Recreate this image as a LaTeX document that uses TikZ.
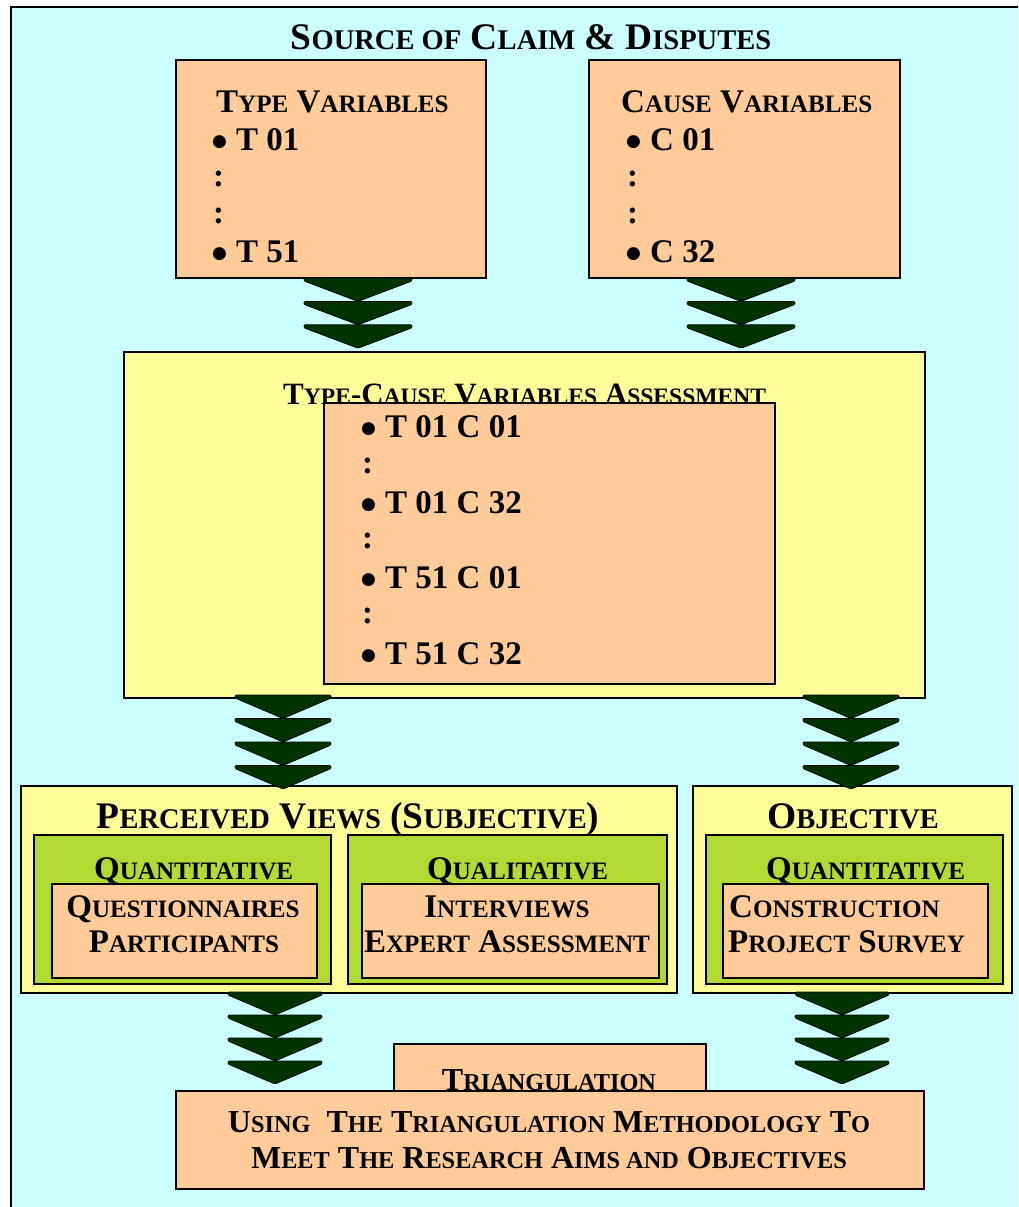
\documentclass[tikz,border=0pt]{standalone}
\usepackage{fontspec}
\setmainfont{Liberation Serif}
\newfontfamily\scfont[Scale=0.76]{Liberation Serif}
\newfontfamily\symfont{DejaVu Sans}
% fake small capitals: lower-case letters set as reduced capitals
\newcommand\smc[1]{{\scfont\bfseries #1}}
% large list bullet followed by its gap
\newcommand\bul{\makebox[23pt][l]{\hspace{-1pt}\raisebox{3.6pt}{\symfont\fontsize{17}{17}\selectfont ●}}}
\definecolor{sky}{HTML}{CCFFFF}
\definecolor{peach}{HTML}{FFCC99}
\definecolor{lemon}{HTML}{FFFF99}
\definecolor{leaf}{HTML}{B3D934}
\definecolor{chev}{HTML}{003300}
% a vertical stack of chevrons: x centre, top y, half width, height, count
\newcommand\chevstack[5]{%
  \foreach \k in {1,...,#5}{%
    \pgfmathsetmacro\yt{#2+(\k-1)*#4}%
    \filldraw[fill=chev, draw=black, line width=0.8pt, rounded corners=1.2pt]
      (#1-#3,\yt) -- (#1+#3,\yt) -- (#1+#3,\yt+3) -- (#1,\yt+#4) -- (#1-#3,\yt+3) -- cycle;
  }}
\begin{document}
\begin{tikzpicture}[x=1pt,y=-1pt,
  box/.style={draw=black, line width=1.8pt, inner sep=0pt, anchor=north west},
  big/.style={inner sep=0pt, font=\bfseries\fontsize{37.5}{42}\selectfont},
  txt/.style={inner sep=0pt, font=\bfseries\fontsize{33}{38}\selectfont},
  mid/.style={inner sep=0pt, font=\bfseries\fontsize{31}{36}\selectfont},
  low/.style={inner sep=0pt, font=\bfseries\fontsize{32}{36}\selectfont}]
\clip (0,0) rectangle (1018,1207);
\fill[white] (0,0) rectangle (1018,1207);
% outer frame
\node[box, fill=sky, minimum width=1040pt, minimum height=1240pt] (frame) at (10,6) {};
\node[big, anchor=base] (title) at (531,50) {S\smc{OURCE OF} C\smc{LAIM} \& D\smc{ISPUTES}};

% source variables
\node[box, fill=peach, minimum width=310pt, minimum height=218pt] (type) at (175,59) {};
\node[txt, anchor=base west] (typeh) at (216,112) {T\smc{YPE} V\smc{ARIABLES}};
\node[txt, anchor=base west] (t1) at (213,150) {\bul T 01};
\node[txt, anchor=base west] (tc1) at (213,186) {:};
\node[txt, anchor=base west] (tc2) at (213,223) {:};
\node[txt, anchor=base west] (t2) at (213,262) {\bul T 51};

\node[box, fill=peach, minimum width=311pt, minimum height=218pt] (cause) at (588,59) {};
\node[txt, anchor=base west] (causeh) at (621,112) {C\smc{AUSE} V\smc{ARIABLES}};
\node[txt, anchor=base west] (c1) at (627,150) {\bul C 01};
\node[txt, anchor=base west] (cc1) at (627,186) {:};
\node[txt, anchor=base west] (cc2) at (627,223) {:};
\node[txt, anchor=base west] (c2) at (627,262) {\bul C 32};

% assessment
\node[box, fill=lemon, minimum width=801pt, minimum height=346pt] (assess) at (123,351) {};
\node[mid, anchor=base west] (assessh) at (283,404) {T\smc{YPE}-C\smc{AUSE} V\smc{ARIABLES} A\smc{SSESSMENT}};
\node[box, fill=peach, minimum width=451pt, minimum height=281pt] (pairs) at (323,402) {};
\node[txt, anchor=base west] (p1) at (362,437) {\bul T 01 C 01};
\node[txt, anchor=base west] (pc1) at (362,473) {:};
\node[txt, anchor=base west] (p2) at (362,513) {\bul T 01 C 32};
\node[txt, anchor=base west] (pc2) at (362,548) {:};
\node[txt, anchor=base west] (p3) at (362,588) {\bul T 51 C 01};
\node[txt, anchor=base west] (pc3) at (362,623) {:};
\node[txt, anchor=base west] (p4) at (362,664) {\bul T 51 C 32};

% subjective side
\node[box, fill=lemon, minimum width=656pt, minimum height=207pt] (subj) at (20,785) {};
\node[big, anchor=base] (subjh) at (348,828) {P\smc{ERCEIVED} V\smc{IEWS} (S\smc{UBJECTIVE})};
\node[box, fill=leaf, minimum width=297pt, minimum height=149pt] (quan) at (33,834) {};
\node[txt, anchor=base west] (quanh) at (94,879) {Q\smc{UANTITATIVE}};
\node[box, fill=peach, minimum width=265pt, minimum height=94pt] (quest) at (51,883) {};
\node[txt, anchor=base] (quest1) at (183,917) {Q\smc{UESTIONNAIRES}};
\node[txt, anchor=base] (quest2) at (184,952) {P\smc{ARTICIPANTS}};
\node[box, fill=leaf, minimum width=319pt, minimum height=149pt] (qual) at (347,834) {};
\node[txt, anchor=base west] (qualh) at (427,879) {Q\smc{UALITATIVE}};
\node[box, fill=peach, minimum width=297pt, minimum height=94pt] (inter) at (361,883) {};
\node[txt, anchor=base] (inter1) at (507,917) {I\smc{NTERVIEWS}};
\node[txt, anchor=base] (inter2) at (507,952) {E\smc{XPERT} A\smc{SSESSMENT}};

% objective side
\node[box, fill=lemon, minimum width=319pt, minimum height=207pt] (obj) at (692,785) {};
\node[big, anchor=base] (objh) at (853,828) {O\smc{BJECTIVE}};
\node[box, fill=leaf, minimum width=297pt, minimum height=149pt] (oquan) at (705,834) {};
\node[txt, anchor=base west] (oquanh) at (766,879) {Q\smc{UANTITATIVE}};
\node[box, fill=peach, minimum width=265pt, minimum height=94pt] (survey) at (722,883) {};
\node[txt, anchor=base west] (survey1) at (729,917) {C\smc{ONSTRUCTION}};
\node[txt, anchor=base west] (survey2) at (728,952) {P\smc{ROJECT} S\smc{URVEY}};

% triangulation
\node[box, fill=peach, minimum width=312pt, minimum height=47pt] (tri) at (393,1043) {};
\node[low, anchor=base] (trih) at (549,1090) {T\smc{RIANGULATION}};
\node[box, fill=peach, minimum width=748pt, minimum height=98pt] (aim) at (175,1090) {};
\node[low, anchor=base] (aim1) at (549,1132) {U\smc{SING}\ \ T\smc{HE} T\smc{RIANGULATION} M\smc{ETHODOLOGY} T\smc{O}};
\node[low, anchor=base] (aim2) at (549,1168) {M\smc{EET} T\smc{HE} R\smc{ESEARCH} A\smc{IMS AND} O\smc{BJECTIVES}};

% flow chevrons
\chevstack{358}{278}{54}{23.4}{3}
\chevstack{741}{278}{54}{23.4}{3}
\chevstack{283}{695}{48}{23.5}{4}
\chevstack{851}{695}{48}{23.5}{4}
\chevstack{275}{992}{47}{23}{4}
\chevstack{842}{992}{47}{23}{4}
\end{tikzpicture}
\end{document}
